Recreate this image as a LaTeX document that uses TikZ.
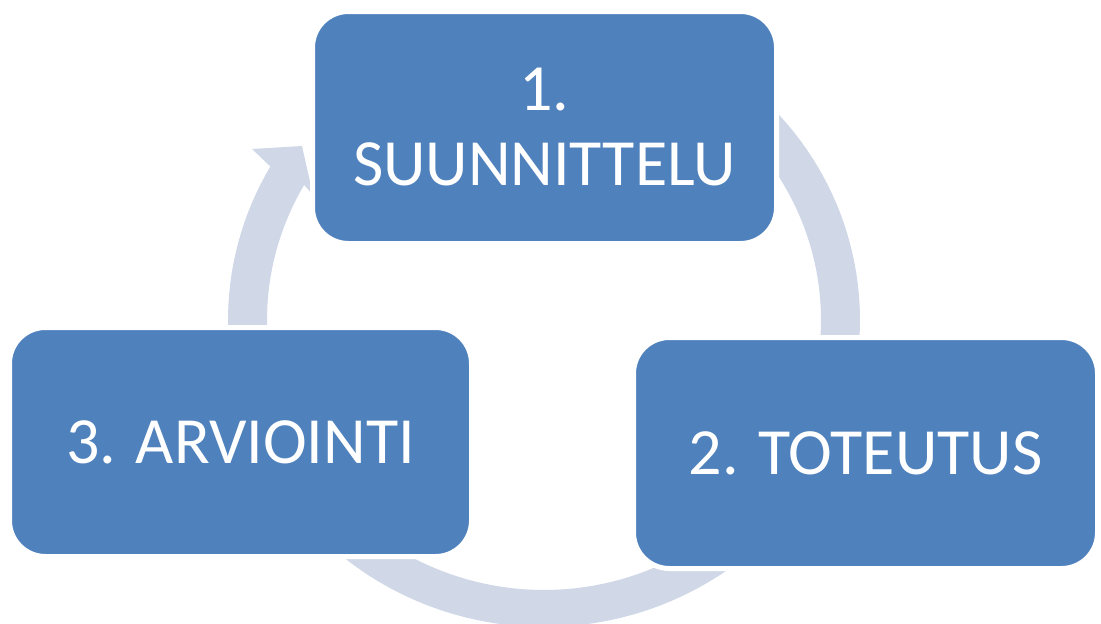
\documentclass[tikz,border=0pt]{standalone}
\usepackage{fontspec}
\setmainfont{Carlito}
\definecolor{boxblue}{HTML}{4F81BD}
\definecolor{ringcol}{HTML}{D0D8E8}
\begin{document}
\begin{tikzpicture}[x=1pt,y=-1pt,
  stage/.style={rectangle, rounded corners=36pt, fill=boxblue, draw=white,
    line width=5pt, text=white, font=\fontsize{66}{75}\selectfont,
    align=center, inner sep=0pt},
  ring/.style={fill=ringcol, draw=none}
]
\useasboundingbox (0,0) rectangle (1101,624);
% cycle band with arrowhead
\path[ring] plot[domain=95:-210, samples=160] ({544+316*cos(\x)},{320-307*sin(\x)})
  -- (252,149) -- (302,146) -- (313,195)
  -- plot[domain=-210:95, samples=160] ({544+277*cos(\x)},{320-270*sin(\x)}) -- cycle;
% stages
\node[stage, minimum width=464pt, minimum height=232pt] (s1) at (544.5,127.5) {1.\\SUUNNITTELU};
\node[stage, minimum width=464pt, minimum height=231pt] (s2) at (865.5,453) {2. TOTEUTUS};
\node[stage, minimum width=462pt, minimum height=229pt] (s3) at (240.5,442) {3. ARVIOINTI};
\end{tikzpicture}
\end{document}
